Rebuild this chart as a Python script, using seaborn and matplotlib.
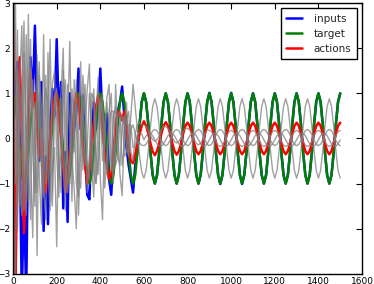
import matplotlib
matplotlib.use("Agg")
import matplotlib.pyplot as plt
import numpy as np
import seaborn as sns

# sample times (every 10 steps, 0..1500)
steps = np.arange(0, 1501, 10)

target = [
    1.00, 0.81, 0.31, -0.31, -0.81, -1.00, -0.81, -0.31, 0.31, 0.81,
    1.00, 0.81, 0.31, -0.31, -0.81, -1.00, -0.81, -0.31, 0.31, 0.81,
    1.00, 0.81, 0.31, -0.31, -0.81, -1.00, -0.81, -0.31, 0.31, 0.81,
    1.00, 0.81, 0.31, -0.31, -0.81, -1.00, -0.81, -0.31, 0.31, 0.81,
    1.00, 0.81, 0.31, -0.31, -0.81, -1.00, -0.81, -0.31, 0.31, 0.81,
    1.00, 0.81, 0.31, -0.31, -0.81, -1.00, -0.81, -0.31, 0.31, 0.81,
    1.00, 0.81, 0.31, -0.31, -0.81, -1.00, -0.81, -0.31, 0.31, 0.81,
    1.00, 0.81, 0.31, -0.31, -0.81, -1.00, -0.81, -0.31, 0.31, 0.81,
    1.00, 0.81, 0.31, -0.31, -0.81, -1.00, -0.81, -0.31, 0.31, 0.81,
    1.00, 0.81, 0.31, -0.31, -0.81, -1.00, -0.81, -0.31, 0.31, 0.81,
    1.00, 0.81, 0.31, -0.31, -0.81, -1.00, -0.81, -0.31, 0.31, 0.81,
    1.00, 0.81, 0.31, -0.31, -0.81, -1.00, -0.81, -0.31, 0.31, 0.81,
    1.00, 0.81, 0.31, -0.31, -0.81, -1.00, -0.81, -0.31, 0.31, 0.81,
    1.00, 0.81, 0.31, -0.31, -0.81, -1.00, -0.81, -0.31, 0.31, 0.81,
    1.00, 0.81, 0.31, -0.31, -0.81, -1.00, -0.81, -0.31, 0.31, 0.81,
    1.00,
]

inputs = [
    0.50, 1.20, 1.70, 0.00, -3.50, -1.20, -3.50, 0.30, 1.80, 0.80,
    2.50, 0.60, -0.50, 1.25, -2.05, -0.40, -1.90, 0.30, 1.10, 0.50,
    2.20, 0.40, 1.25, -1.55, -0.30, -1.85, 1.00, -0.20, 0.20, 0.60,
    1.55, 0.20, 0.95, -0.30, -1.25, -1.35, 0.10, 0.80, 0.20, 0.70,
    1.55, 0.40, -0.30, 0.55, -0.90, -1.25, -0.40, 0.20, 0.60, 0.80,
    1.15, 0.50, -0.20, -0.60, -0.90, -1.20, -0.60, -0.30, 0.31, 0.81,
    1.00, 0.81, 0.31, -0.31, -0.81, -1.00, -0.81, -0.31, 0.31, 0.81,
    1.00, 0.81, 0.31, -0.31, -0.81, -1.00, -0.81, -0.31, 0.31, 0.81,
    1.00, 0.81, 0.31, -0.31, -0.81, -1.00, -0.81, -0.31, 0.31, 0.81,
    1.01, 0.81, 0.31, -0.31, -0.81, -1.01, -0.81, -0.31, 0.31, 0.81,
    1.01, 0.81, 0.31, -0.31, -0.81, -1.01, -0.81, -0.31, 0.31, 0.81,
    1.00, 0.81, 0.31, -0.31, -0.81, -1.00, -0.81, -0.31, 0.31, 0.81,
    1.00, 0.81, 0.31, -0.31, -0.81, -1.00, -0.81, -0.31, 0.31, 0.81,
    1.00, 0.81, 0.31, -0.31, -0.81, -1.00, -0.81, -0.31, 0.31, 0.81,
    1.00, 0.81, 0.31, -0.31, -0.81, -1.00, -0.81, -0.31, 0.31, 0.81,
    1.00,
]

actions = [
    3.50, -3.50, -0.50, 1.80, 0.30, -2.10, -0.80, 0.60, 1.50, 0.70,
    1.00, 0.30, -0.40, 0.20, -0.90, -1.20, -0.60, 0.10, 0.60, 0.90,
    1.00, 0.50, 0.00, -0.60, -1.20, -0.90, -0.30, 0.20, 0.60, 1.00,
    0.80, 0.30, -0.20, -0.60, -1.00, -0.70, -0.20, 0.30, 0.70, 0.95,
    0.70, 0.20, -0.30, -0.60, -0.90, -0.80, -0.30, 0.20, 0.60, 0.55,
    0.40, 0.60, 0.20, -0.20, -0.50, -0.55, -0.35, -0.10, 0.10, 0.28,
    0.38, 0.28, 0.11, -0.11, -0.29, -0.37, -0.28, -0.11, 0.11, 0.28,
    0.36, 0.28, 0.11, -0.11, -0.28, -0.36, -0.28, -0.11, 0.11, 0.28,
    0.35, 0.28, 0.11, -0.11, -0.28, -0.35, -0.28, -0.11, 0.11, 0.28,
    0.35, 0.28, 0.11, -0.11, -0.28, -0.35, -0.28, -0.11, 0.11, 0.28,
    0.35, 0.28, 0.11, -0.11, -0.28, -0.35, -0.28, -0.11, 0.11, 0.28,
    0.35, 0.28, 0.11, -0.11, -0.28, -0.35, -0.28, -0.11, 0.11, 0.28,
    0.35, 0.28, 0.11, -0.11, -0.28, -0.35, -0.28, -0.11, 0.11, 0.28,
    0.35, 0.28, 0.11, -0.11, -0.28, -0.35, -0.28, -0.11, 0.11, 0.28,
    0.35, 0.28, 0.11, -0.11, -0.28, -0.35, -0.28, -0.11, 0.11, 0.28,
    0.35,
]

# hidden unit traces (grey)
hidden_a = [
    3.50, -1.00, 2.40, -1.50, 0.50, 2.60, -1.20, 2.75, -0.50, -2.20,
    0.80, -2.60, 1.00, -0.60, 2.30, -1.00, 0.40, 2.20, -0.80, -0.20,
    -2.40, 0.60, 1.00, 2.00, -1.20, 0.30, 2.15, -0.50, -1.10, -2.00,
    0.40, 1.70, -0.70, 0.20, 1.10, 1.65, -0.60, -1.30, 0.50, 1.35,
    -0.90, -1.80, 0.30, 0.90, 1.20, -0.40, -1.00, 1.20, 0.20, -0.80,
    -1.27, 0.20, 0.80, -0.30, 0.50, 1.20, 0.70, 0.20, -0.40, -0.75,
    -0.88, -0.71, -0.27, 0.27, 0.71, 0.88, 0.71, 0.27, -0.27, -0.71,
    -0.88, -0.71, -0.27, 0.27, 0.71, 0.88, 0.71, 0.27, -0.27, -0.71,
    -0.88, -0.71, -0.27, 0.27, 0.71, 0.88, 0.71, 0.27, -0.27, -0.71,
    -0.88, -0.71, -0.27, 0.27, 0.71, 0.88, 0.71, 0.27, -0.27, -0.71,
    -0.88, -0.71, -0.27, 0.27, 0.71, 0.88, 0.71, 0.27, -0.27, -0.71,
    -0.88, -0.71, -0.27, 0.27, 0.71, 0.88, 0.71, 0.27, -0.27, -0.71,
    -0.88, -0.71, -0.27, 0.27, 0.71, 0.88, 0.71, 0.27, -0.27, -0.71,
    -0.88, -0.71, -0.27, 0.27, 0.71, 0.88, 0.71, 0.27, -0.27, -0.71,
    -0.88, -0.71, -0.27, 0.27, 0.71, 0.88, 0.71, 0.27, -0.27, -0.71,
    -0.88,
]

hidden_b = [
    3.50, 2.00, -0.80, 1.20, 2.50, -0.40, -1.70, 1.00, 2.20, -0.30,
    -1.50, 1.85, -0.80, -1.90, 0.60, 1.40, -0.70, -1.60, 1.20, 1.50,
    -0.40, -1.30, 0.90, -0.60, -1.60, 1.20, 0.20, -1.40, 1.30, 0.50,
    -1.70, -0.20, 1.40, 0.60, -1.20, -0.30, 1.00, 0.90, -1.00, -0.50,
    0.80, 0.60, -1.10, -0.40, 0.60, 1.00, -0.70, -0.30, 0.50, 0.60,
    -0.60, -0.20, 0.40, 0.60, -0.30, -0.50, 0.10, 0.30, 0.35, 0.30,
    0.30, 0.27, 0.18, 0.06, -0.03, -0.06, -0.03, 0.06, 0.18, 0.27,
    0.26, 0.23, 0.14, 0.02, -0.07, -0.10, -0.07, 0.02, 0.14, 0.23,
    0.22, 0.19, 0.10, -0.02, -0.11, -0.14, -0.11, -0.02, 0.10, 0.19,
    0.18, 0.15, 0.06, -0.06, -0.15, -0.18, -0.15, -0.06, 0.06, 0.15,
    0.18, 0.15, 0.06, -0.06, -0.15, -0.18, -0.15, -0.06, 0.06, 0.15,
    0.18, 0.15, 0.06, -0.06, -0.15, -0.18, -0.15, -0.06, 0.06, 0.15,
    0.18, 0.15, 0.06, -0.06, -0.15, -0.18, -0.15, -0.06, 0.06, 0.15,
    0.18, 0.15, 0.06, -0.06, -0.15, -0.18, -0.15, -0.06, 0.06, 0.15,
    0.18, 0.15, 0.06, -0.06, -0.15, -0.18, -0.15, -0.06, 0.06, 0.15,
    0.18,
]

hidden_c = [
    -0.50, -3.50, 1.50, -1.00, -1.70, 1.90, 0.30, -1.40, 1.60, 0.40,
    -1.20, 0.90, 1.70, -0.80, -1.30, 1.10, 0.80, -1.00, -1.50, 0.70,
    1.10, -0.90, -0.30, 1.50, 0.40, -1.20, -0.50, 1.10, 0.60, -1.00,
    -1.30, 0.50, 1.00, -0.60, -0.20, 1.00, 0.30, -0.80, -1.00, 0.40,
    0.90, -0.50, -0.20, 0.80, 0.20, -0.70, 0.50, 0.70, -0.40, -0.60,
    0.30, 0.50, -0.20, -0.40, 0.20, 0.30, 0.10, -0.10, -0.10, -0.15,
    -0.16, -0.13, -0.04, 0.08, 0.17, 0.20, 0.17, 0.08, -0.04, -0.13,
    -0.16, -0.13, -0.04, 0.08, 0.17, 0.20, 0.17, 0.08, -0.04, -0.13,
    -0.16, -0.13, -0.04, 0.08, 0.17, 0.20, 0.17, 0.08, -0.04, -0.13,
    -0.16, -0.13, -0.04, 0.08, 0.17, 0.20, 0.17, 0.08, -0.04, -0.13,
    -0.16, -0.13, -0.04, 0.08, 0.17, 0.20, 0.17, 0.08, -0.04, -0.13,
    -0.16, -0.13, -0.04, 0.08, 0.17, 0.20, 0.17, 0.08, -0.04, -0.13,
    -0.16, -0.13, -0.04, 0.08, 0.17, 0.20, 0.17, 0.08, -0.04, -0.13,
    -0.16, -0.13, -0.04, 0.08, 0.17, 0.20, 0.17, 0.08, -0.04, -0.13,
    -0.16, -0.13, -0.04, 0.08, 0.17, 0.20, 0.17, 0.08, -0.04, -0.13,
    -0.16,
]

hidden_d = [
    2.00, 3.50, -2.00, 0.50, 1.20, -1.60, 2.30, -0.50, -1.80, 1.30,
    -0.20, -1.20, 1.40, 0.70, -1.10, -1.80, 1.90, -0.30, -1.20, 1.00,
    0.50, -0.50, -1.20, 0.80, 1.30, -0.40, -1.00, 0.90, -0.30, 1.30,
    -0.90, -1.10, 0.50, 1.20, -0.50, -0.90, 0.60, 1.10, -0.30, -0.80,
    0.40, 1.00, -0.50, -0.80, 0.30, 0.60, 0.60, -0.60, -0.40, 0.40,
    0.50, -0.40, -0.30, 0.30, 0.30, -0.20, -0.20, 0.10, 0.12, 0.10,
    -0.03, 0.06, 0.11, 0.11, 0.06, -0.03, -0.12, -0.17, -0.17, -0.12,
    -0.03, 0.06, 0.11, 0.11, 0.06, -0.03, -0.12, -0.17, -0.17, -0.12,
    -0.03, 0.06, 0.11, 0.11, 0.06, -0.03, -0.12, -0.17, -0.17, -0.12,
    -0.03, 0.06, 0.11, 0.11, 0.06, -0.03, -0.12, -0.17, -0.17, -0.12,
    -0.03, 0.06, 0.11, 0.11, 0.06, -0.03, -0.12, -0.17, -0.17, -0.12,
    -0.03, 0.06, 0.11, 0.11, 0.06, -0.03, -0.12, -0.17, -0.17, -0.12,
    -0.03, 0.06, 0.11, 0.11, 0.06, -0.03, -0.12, -0.17, -0.17, -0.12,
    -0.03, 0.06, 0.11, 0.11, 0.06, -0.03, -0.12, -0.17, -0.17, -0.12,
    -0.03, 0.06, 0.11, 0.11, 0.06, -0.03, -0.12, -0.17, -0.17, -0.12,
    -0.03,
]

sns.set_theme(style="white")
plt.rcParams["font.family"] = ["DejaVu Sans"]

fig = plt.figure(figsize=(3.74, 2.84), dpi=100)
ax = fig.add_axes([0.035, 0.036, 0.933, 0.953])

sns.lineplot(x=steps, y=inputs, color="blue", lw=1.8, label="inputs", ax=ax)
sns.lineplot(x=steps, y=target, color="green", lw=1.8, label="target", ax=ax)
sns.lineplot(x=steps, y=actions, color="red", lw=1.8, label="actions", ax=ax)

for h in [hidden_a, hidden_b, hidden_c, hidden_d]:
    sns.lineplot(x=steps, y=h, color="0.5", lw=1, alpha=0.75, ax=ax, legend=False)

ax.set_xlim(0, 1600)
ax.set_ylim(-3, 3)
ax.set_xticks(range(0, 1601, 200))
ax.set_yticks(range(-3, 4))
ax.set_xlabel("")
ax.set_ylabel("")
ax.tick_params(direction="in", top=True, right=True, length=4, width=0.8,
               labelsize=6.5, colors="black", pad=2)
for s in ax.spines.values():
    s.set_color("black")
    s.set_linewidth(1)

leg = ax.legend(loc="upper right", fontsize=7.5, frameon=True, fancybox=False,
                edgecolor="black", framealpha=1, handlelength=1.6,
                handletextpad=1.1, borderpad=0.5, borderaxespad=0.5)
leg.get_frame().set_linewidth(1)

fig.savefig("out.png", dpi=100)
